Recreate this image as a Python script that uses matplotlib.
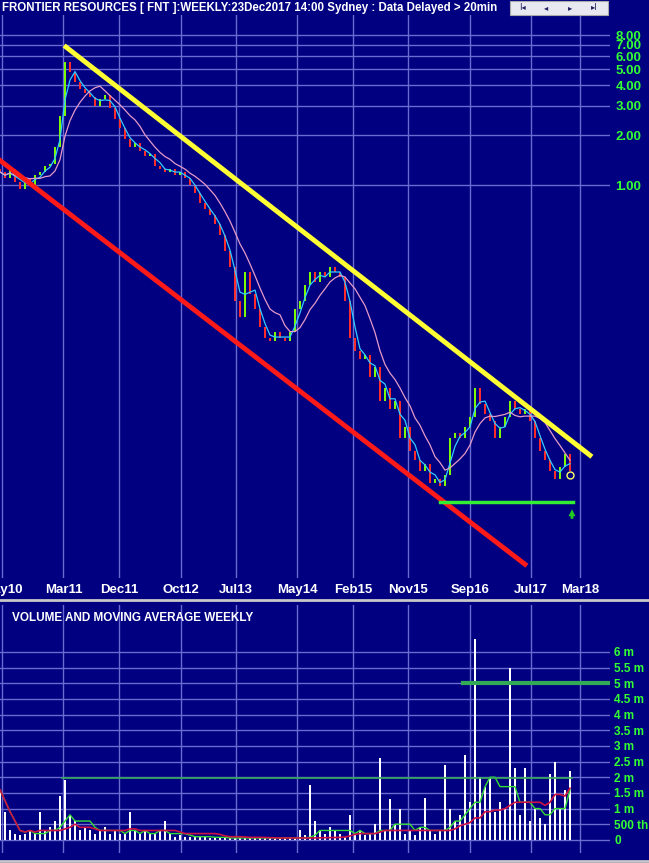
import matplotlib
matplotlib.use("Agg")
import matplotlib.pyplot as plt
import matplotlib.dates as mdates
import numpy as np
import pandas as pd
from matplotlib.patches import Rectangle

closes = [1.2,1.1,1.25,1.05,0.95,1.1,1.0,1.15,1.2,1.3,1.35,1.7,2.6,5.5,4.8,4.2,3.8,3.6,3.4,3.0,
          3.3,3.5,2.9,2.5,2.2,1.9,1.7,1.8,1.6,1.5,1.55,1.3,1.25,1.2,1.25,1.15,1.2,1.1,1.0,0.9,
          0.78,0.72,0.66,0.58,0.5,0.4,0.32,0.2,0.16,0.3,0.22,0.18,0.14,0.12,0.115,0.13,0.12,0.115,0.13,0.18,
          0.2,0.25,0.3,0.26,0.3,0.28,0.32,0.3,0.28,0.2,0.12,0.1,0.09,0.095,0.07,0.08,0.05,0.06,0.045,0.05,
          0.03,0.035,0.025,0.022,0.019,0.021,0.016,0.017,0.0155,0.018,0.03,0.032,0.03,0.035,0.04,0.06,0.048,0.042,0.038,0.03,
          0.035,0.04,0.05,0.045,0.042,0.045,0.038,0.03,0.025,0.022,0.019,0.017,0.02,0.024,0.019]
volumes = [1.6,0.9,0.3,0.2,0.15,0.2,0.3,0.2,0.9,0.3,0.4,
           0.6,1.4,1.9,
           0.8,0.6,0.3,0.4,0.3,0.2,0.3,
           0.4,0.2,0.3,0.2,0.2,0.9,0.3,0.2,0.3,0.2,
           0.2,0.3,0.6,0.2,0.1,0.15,0.1,0.08,0.1,0.08,0.1,0.06,0.08,0.05,0.06,
           0.05,0.06,0.05,0.07,0.06,0.05,0.08,0.06,0.07,0.05,0.06,0.08,0.07,0.06,
           0.3,0.15,1.75,0.6,0.3,0.2,0.4,0.3,0.2,0.1,
           0.8,0.2,0.3,0.15,0.2,
           0.5,2.6,0.3,1.3,0.5,1.0,0.2,0.3,0.15,
           0.4,1.35,0.3,0.2,0.3,2.4,1.0,0.6,
           0.8,2.7,1.2,6.4,2.0,1.7,2.0,0.9,1.2,1.0,
           5.5,2.3,0.8,2.3,0.6,1.0,0.7,0.5,
           2.1,2.5,1.0,1.6,2.2]
n = min(len(closes), len(volumes))
closes = np.array(closes[:n]); volumes = np.array(volumes[:n])

date_labels = ["May10","Mar11","Dec11","Oct12","Jul13","May14","Feb15","Nov15","Sep16","Jul17","Mar18"]
date_ticks = ["2010-05-01","2011-03-01","2011-12-01","2012-10-01","2013-07-01","2014-05-01",
              "2015-02-01","2015-11-01","2016-09-01","2017-07-01","2018-03-01"]
price_ticks = [1,2,3,4,5,6,7,8]
vol_ticks = [0,0.5,1,1.5,2,2.5,3,3.5,4,4.5,5,5.5,6]
vol_labels = ["0","500 th","1 m","1.5 m","2 m","2.5 m","3 m","3.5 m","4 m","4.5 m","5 m","5.5 m","6 m"]

d0 = mdates.datestr2num("2010-04-21")
step = 24.75
x = d0 + step*np.arange(n)
opens = np.concatenate([[closes[0]*1.05], closes[:-1]])
ma_fast = pd.Series(closes).rolling(3, min_periods=1).mean().values
ma_slow = pd.Series(closes).rolling(8, min_periods=1).mean().values
vma_fast = pd.Series(volumes).rolling(7, min_periods=1).median().values
vma_slow = pd.Series(volumes).rolling(20, min_periods=1).median().values

NAVY = "#000080"; GRID = "#6a6ad0"; GREEN = "#33ff33"
FONT = ["Liberation Sans Narrow", "Liberation Sans", "DejaVu Sans"]
plt.rcParams['font.family'] = FONT

fig = plt.figure(figsize=(6.49, 8.63), dpi=100, facecolor=NAVY)
W, H = 649, 863
px = 4.95
xl = (d0, d0 + 610*px)

ax = fig.add_axes([0, (H-578)/H, 610/W, (578-15)/H], facecolor=NAVY)
ax.set_yscale('log')
ax.set_ylim(0.0043, 10.6)
ax.set_xlim(*xl)
tnum = [mdates.datestr2num(d) for d in date_ticks]
for t in tnum:
    ax.axvline(t, color=GRID, lw=1, zorder=0)
for p in price_ticks:
    ax.axhline(p, color=GRID, lw=1, zorder=0)
ax.set_yticks(price_ticks)
ax.set_yticklabels([f"{p:.2f}" for p in price_ticks])
ax.yaxis.set_minor_locator(matplotlib.ticker.NullLocator())
ax.yaxis.tick_right()
ax.tick_params(axis='y', length=0, colors=GREEN, labelsize=9.5, pad=4)
for l in ax.get_yticklabels(): l.set_fontweight('bold')
ax.set_xticks(tnum)
ax.set_xticklabels(date_labels)
ax.tick_params(axis='x', length=0, colors='white', labelsize=9.5, pad=4)
for l in ax.get_xticklabels(): l.set_fontweight('bold')
for s in ax.spines.values(): s.set_visible(False)

bw = step*0.55
for xi, o, c in zip(x, opens, closes):
    col = "#7cfc00" if c >= o else "#ff2a2a"
    lo, hi = min(o, c), max(o, c)
    ax.add_patch(Rectangle((xi-bw/2, lo), bw, hi-lo, color=col, lw=0, zorder=3))
ax.plot(x, ma_fast, color="#33ccff", lw=0.9, zorder=4)
ax.plot(x, ma_slow, color="#e59ac8", lw=0.9, zorder=4)

def dpx(p): return d0 + p*px
ax.plot([dpx(66), dpx(590)], [6.8, 0.0236], color="#ffff33", lw=3.5, zorder=5)
ax.plot([dpx(0), dpx(525)], [1.41, 0.0052], color="#ff1a1a", lw=3.5, zorder=5)
ax.plot([dpx(440), dpx(573)], [0.0123, 0.0123], color="#33ee33", lw=2.5, zorder=5)
ax.annotate("", xy=(dpx(572), 0.0116), xytext=(dpx(572), 0.0094),
            arrowprops=dict(arrowstyle="simple", color="#22cc22", lw=0), zorder=6)
ax.plot([x[-1]], [0.018], marker='o', ms=5, mfc='none', mec='#ffff66', zorder=6)

fig.text(2/W, 1-8/H, "FRONTIER RESOURCES [ FNT ]:WEEKLY:23Dec2017 14:00 Sydney : Data Delayed > 20min",
         color='white', fontsize=8.3, fontweight='bold', va='center', ha='left')
fig.patches.append(Rectangle((510/W, 1-15/H), 98/W, 14/H, transform=fig.transFigure,
                             facecolor="#e8e8f0", edgecolor="#aaaaaa", lw=0.8))
for bx, sym in zip([522, 546, 570, 594], ["I◂", "◂", "▸", "▸I"]):
    fig.text(bx/W, 1-8/H, sym, color="#202060", fontsize=6, ha='center', va='center', family="DejaVu Sans")

fig.lines.append(plt.Line2D([0, 1], [1-600/H, 1-600/H], transform=fig.transFigure, color="#c8c8c8", lw=2))
fig.lines.append(plt.Line2D([0, 1], [1-861/H, 1-861/H], transform=fig.transFigure, color="#c8c8c8", lw=2))

bx_ = fig.add_axes([0, (H-853)/H, 610/W, (853-605)/H], facecolor=NAVY)
bx_.set_xlim(*xl)
bx_.set_ylim(-0.42, 7.5)
for t in tnum:
    bx_.axvline(t, color=GRID, lw=1, zorder=0)
for v in vol_ticks:
    bx_.axhline(v, color=GRID, lw=1, zorder=0)
bx_.bar(x, volumes, width=step*0.4, color='white', zorder=3)
bx_.plot(x, vma_fast, color="#33dd33", lw=1, zorder=4)
bx_.plot(x, vma_slow, color="#cc1144", lw=1.2, zorder=4)
bx_.plot([dpx(62), dpx(572)], [1.97, 1.97], color="#33aa55", lw=1.2, zorder=5)
bx_.plot([dpx(463), dpx(610)], [5.0, 5.0], color="#33aa55", lw=3, zorder=5)
bx_.set_yticks(vol_ticks)
bx_.set_yticklabels(vol_labels)
bx_.yaxis.tick_right()
bx_.tick_params(axis='y', length=0, colors=GREEN, labelsize=8.5, pad=3)
for l in bx_.get_yticklabels(): l.set_fontweight('bold')
bx_.set_xticks([])
for s in bx_.spines.values(): s.set_visible(False)
bx_.text(0.02, 0.97, "VOLUME AND MOVING AVERAGE WEEKLY", transform=bx_.transAxes, color='white',
         fontsize=8.5, fontweight='bold', va='top', ha='left')

fig.savefig("out.png", dpi=100, facecolor=NAVY)
